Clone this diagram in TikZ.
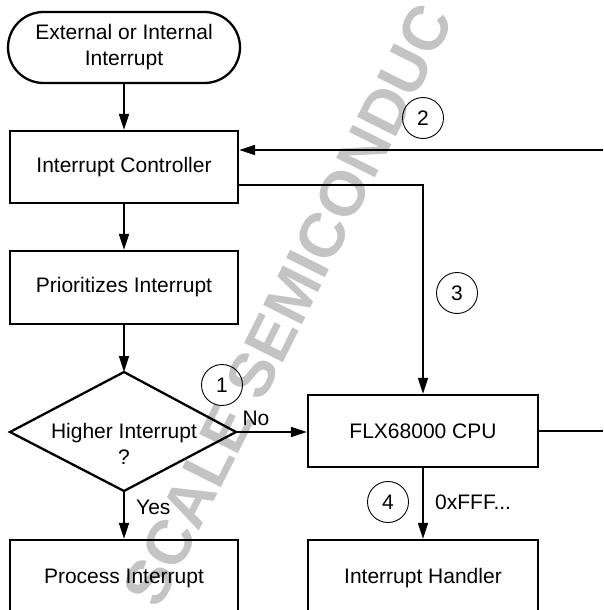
\documentclass[tikz,border=0pt]{standalone}
\usepackage{fontspec}
\setmainfont{Liberation Sans}
\usetikzlibrary{arrows.meta}
\begin{document}
\begin{tikzpicture}[x=1pt,y=-1pt,
  txt/.style={font=\fontsize{21}{26}\selectfont, align=center},
  boxnode/.style={txt, draw, line width=2.3pt, minimum width=228pt, minimum height=72pt, inner sep=0pt},
  conn/.style={line width=1.5pt, -{Triangle[length=16pt,width=10pt]}},
  plainline/.style={line width=1.5pt},
  num/.style={txt, draw, circle, line width=0.9pt, minimum size=41pt, inner sep=0pt},
  lbl/.style={txt, inner sep=0pt},
  wmark/.style={text=black!23, font=\fontsize{63}{63}\bfseries\selectfont, inner sep=0pt}
]
\clip (0,0) rectangle (603,610);
\fill[white] (0,0) rectangle (603,610);
% watermark
\node[wmark, rotate=63.5] (wm) at (288,305) {SCALE SEMICONDUC};
% terminal
\node[txt, draw, line width=2.3pt, minimum width=232pt, minimum height=71pt, inner sep=0pt, rounded corners=35.5pt] (start) at (124,47.5) {External or Internal\\Interrupt};
\node[boxnode] (ic) at (124,167) {Interrupt Controller};
\node[boxnode, minimum height=73pt] (pri) at (124,287.5) {Prioritizes Interrupt};
\node[boxnode, minimum width=230pt] (cpu) at (423,431) {FLX68000 CPU};
\node[boxnode, minimum width=230pt, minimum height=90pt] (hand) at (423,585) {};
\node[lbl] (handt) at (423,578) {Interrupt Handler};
\node[boxnode, minimum height=90pt] (proc) at (124,585) {};
\node[lbl] (proct) at (124,578) {Process Interrupt};
% diamond
\coordinate (dtop) at (124,372);
\coordinate (dleft) at (10,432);
\coordinate (dright) at (236,432);
\coordinate (dbot) at (124,491);
\draw[line width=2.3pt, line join=miter] (dtop) -- (dright) -- (dbot) -- (dleft) -- cycle;
\node[lbl] (dtext) at (124,444) {Higher Interrupt\\?};
% side coordinates
\coordinate (in2) at (603,150);
\coordinate (out1) at (603,431);
% connectors
\draw[conn] (start) -- (ic);
\draw[conn] (ic) -- (pri);
\draw[conn] (pri.south) -- (dtop);
\draw[conn] (dbot) -- (proc.north);
\draw[conn] (dright) -- (dright -| cpu.west);
\draw[conn] (in2) -- (in2 -| ic.east);
\draw[conn] ([yshift=-18pt]ic.east) -| (cpu.north);
\draw[plainline] (cpu.east) -- (out1);
\draw[conn] (cpu.south) -- (hand.north);
% labels
\node[num] (n1) at (222,385) {1};
\node[num] (n2) at (423,118) {2};
\node[num] (n3) at (457,293) {3};
\node[num] (n4) at (388,502) {4};
\node[lbl] (no) at (256,418) {No};
\node[lbl, anchor=west] (yes) at (136,507) {Yes};
\node[lbl, anchor=west] (addr) at (435,502) {0xFFF...};
\end{tikzpicture}
\end{document}
